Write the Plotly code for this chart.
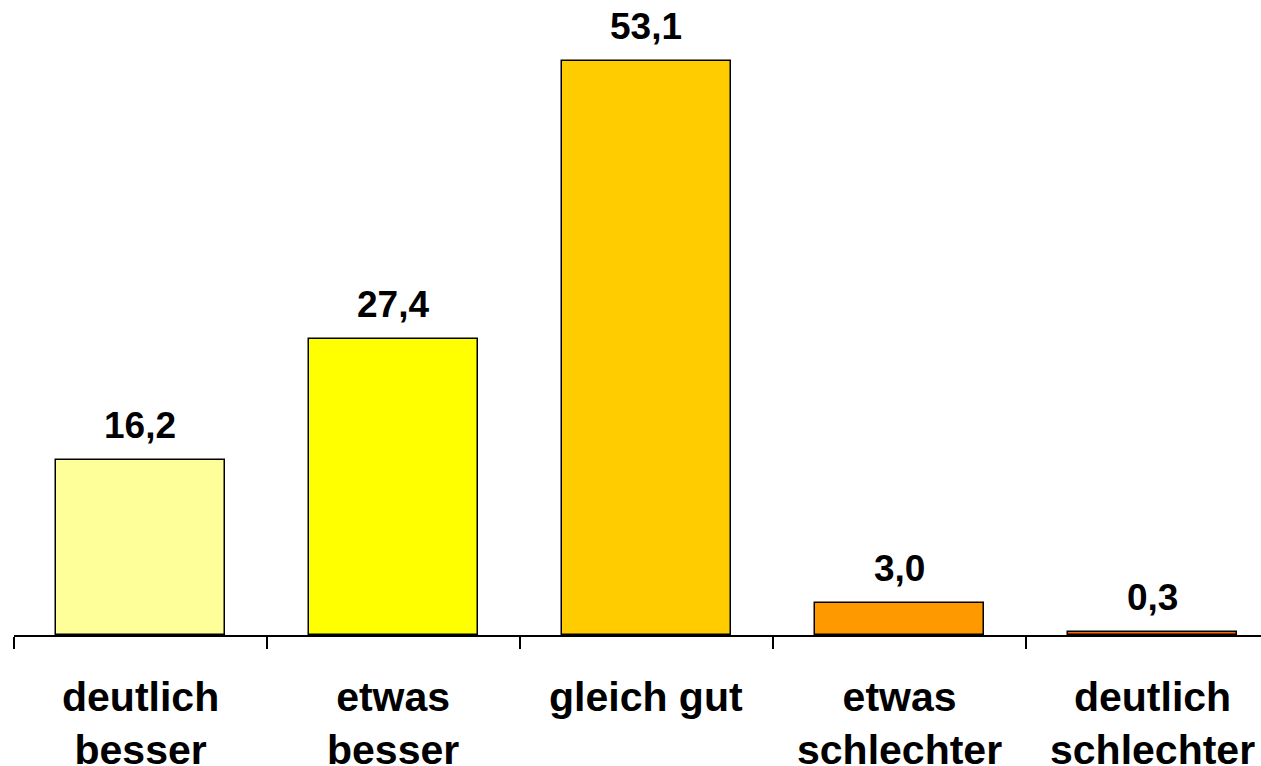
import plotly.graph_objects as go

# Daten
kategorien = ["deutlich<br>besser", "etwas<br>besser", "gleich gut", "etwas<br>schlechter", "deutlich<br>schlechter"]
werte = [16.2, 27.4, 53.1, 3.0, 0.3]
werte_text = ["16,2", "27,4", "53,1", "3,0", "0,3"]
farben = ["#FFFF99", "#FFFF00", "#FFCC00", "#FF9900", "#FF6600"]

font_family = "Arial, Liberation Sans, sans-serif"

fig = go.Figure()

fig.add_trace(go.Bar(
    x=kategorien,
    y=werte,
    width=0.667,
    marker=dict(color=farben, line=dict(color="black", width=1.5)),
    hoverinfo="skip",
    showlegend=False,
))

# Wertebeschriftungen ueber den Balken
for k, w, t in zip(kategorien, werte, werte_text):
    fig.add_annotation(
        x=k, y=w, text="<b>%s</b>" % t,
        showarrow=False, yanchor="bottom", yshift=12,
        font=dict(family=font_family, size=37, color="black"),
    )

# Kategorienbeschriftungen unter der Achse
for k in kategorien:
    fig.add_annotation(
        x=k, y=0, text="<b>%s</b>" % k,
        showarrow=False, yanchor="top", yshift=-37,
        font=dict(family=font_family, size=41, color="black"),
    )

fig.update_layout(
    width=1261, height=766,
    margin=dict(l=14, r=0, t=0, b=131),
    paper_bgcolor="white",
    plot_bgcolor="white",
    bargap=0,
    xaxis=dict(
        type="category",
        range=[-0.5, 4.43],
        tickson="boundaries",
        ticks="outside", ticklen=12, tickwidth=1.5, tickcolor="black",
        showticklabels=False,
        showline=True, linecolor="black", linewidth=2,
        showgrid=False, zeroline=False,
        automargin=False,
    ),
    yaxis=dict(
        range=[0, 58.74],
        visible=False,
        showgrid=False, zeroline=False,
        automargin=False,
    ),
)

# Seitenrand des Browsers entfernen, damit die Grafik bei (0,0) beginnt
fig.write_html("out.html", config={"displayModeBar": False},
               post_script="document.body.style.margin='0';")
